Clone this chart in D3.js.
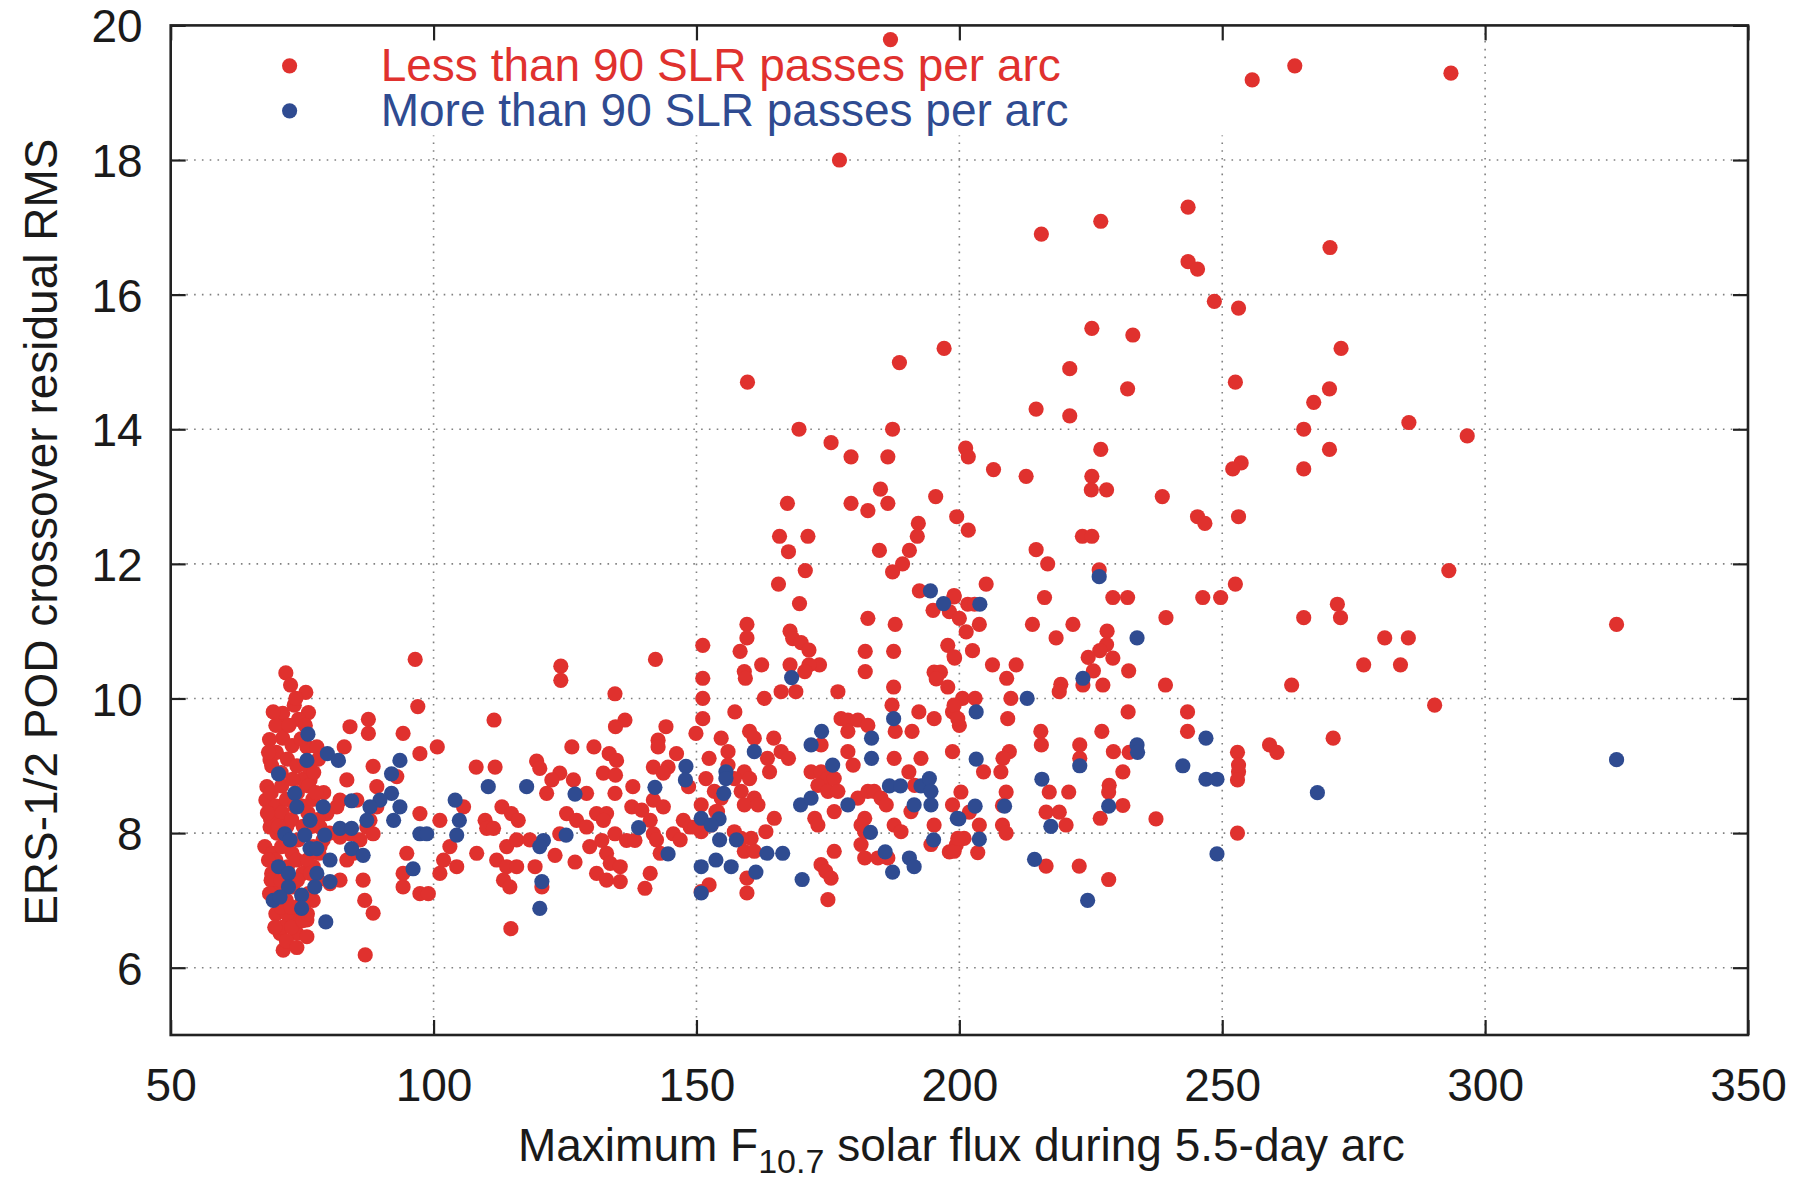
<!DOCTYPE html>
<html><head><meta charset="utf-8">
<script src="https://cdn.jsdelivr.net/npm/d3@7"></script>
<style>
html,body{margin:0;padding:0;background:#fff;}
text{font-family:"Liberation Sans",Arial,Helvetica,sans-serif;}
</style></head>
<body>
<svg id="chart" width="1809" height="1180"></svg>
<script>
// ---------------- data ----------------
const X_TICKS = [50,100,150,200,250,300,350];
const Y_TICKS = [6,8,10,12,14,16,18,20];
const X_DOMAIN = [50,350];
const Y_DOMAIN = [5,20];
const SERIES_NAMES = ["Less than 90 SLR passes per arc","More than 90 SLR passes per arc"];
const Y_LABEL = "ERS-1/2 POD crossover residual RMS";

// Less than 90 SLR passes per arc  [F10.7, RMS]
const lessPasses = [
[186.9,19.79],[177.2,18.0],[243.5,17.3],[226.9,17.09],[215.6,16.9],[243.5,16.49],[245.3,16.38],[225.2,15.5],[233.0,15.4],[197.1,15.2],[188.6,14.99],[221.0,14.9],[159.7,14.7],[232.0,14.6],[214.6,14.3],[221.0,14.2],[169.5,14.0],[187.3,14.0],[175.6,13.8],[179.4,13.59],[186.4,13.59],[201.2,13.72],[201.7,13.59],[206.5,13.4],[212.7,13.3],[226.9,13.7],[225.2,13.3],[225.1,13.1],[228.0,13.1],[238.6,13.0],[245.3,12.7],[167.3,12.9],[179.4,12.9],[182.6,12.79],[185.0,13.11],[186.4,12.9],[195.5,13.0],[199.5,12.7],[201.7,12.5],[192.2,12.6],[192.0,12.41],[165.8,12.41],[171.2,12.41],[223.4,12.41],[225.2,12.41],
[255.7,19.19],[263.8,19.4],[293.5,19.29],[270.5,16.7],[248.5,15.9],[253.1,15.8],[272.6,15.2],[252.5,14.7],[270.4,14.6],[267.4,14.4],[265.5,14.0],[285.5,14.1],[296.6,13.9],[270.4,13.7],[253.6,13.5],[252.0,13.41],[265.5,13.41],
[246.7,12.6],[253.1,12.7],[293.1,11.9],[252.5,11.7],[246.3,11.5],[249.7,11.5],[271.9,11.4],[272.5,11.2],[265.5,11.2],[325.0,11.1],[280.9,10.9],[285.4,10.9],[276.9,10.5],[283.9,10.5],[263.2,10.2],[290.4,9.9],[271.1,9.41],[259.0,9.31],[260.4,9.2],[252.9,9.2],[253.1,9.01],[253.1,8.91],[252.9,8.79],[252.9,8.0],
[214.6,12.21],[216.8,12.0],[226.6,11.91],[205.1,11.7],[199.0,11.51],[201.6,11.4],[202.9,11.4],[216.2,11.5],[229.2,11.5],[232.0,11.5],[198.1,11.29],[200.0,11.19],[203.8,11.1],[201.3,10.99],[213.9,11.1],[221.6,11.1],[239.3,11.2],[218.4,10.9],[228.1,11.0],[228.0,10.8],[226.7,10.71],[224.5,10.61],[229.2,10.6],[232.2,10.41],[225.5,10.41],[202.5,10.71],[199.1,10.6],[206.3,10.5],[210.8,10.5],[209.0,10.3],[219.3,10.21],[219.0,10.1],[223.5,10.2],[227.3,10.2],[239.2,10.2],[200.6,10.0],[203.0,10.0],[209.8,10.0],[198.7,9.8],[200.0,9.6],[209.2,9.7],[232.1,9.8],[243.4,9.8],[243.4,9.51],[215.5,9.51],[215.6,9.31],[227.1,9.51],[222.9,9.31],[222.9,9.11],[229.3,9.21],[232.3,9.2],[198.7,9.21],[209.5,9.21],[208.3,9.11],[207.9,8.91],[204.6,8.91],[231.1,8.91],[228.5,8.71],[228.4,8.61],[231.1,8.41],[226.8,8.22],[237.4,8.21],[200.3,8.61],[208.9,8.61],[217.1,8.61],[220.8,8.61],[216.5,8.31],[219.0,8.31],[220.3,8.12],[201.9,8.31],[208.2,8.41],[208.2,8.12],[208.9,8.0],[203.8,8.12],[200.9,7.92],[199.4,7.82],[203.5,7.71],[216.5,7.51],[222.8,7.51],[228.4,7.31],[198.1,7.72],
[167.5,12.18],[184.8,12.2],[190.5,12.2],[189.2,12.0],[187.3,11.88],[170.7,11.9],[165.6,11.7],[169.6,11.41],[192.4,11.6],[195.0,11.31],[199.0,11.53],[182.6,11.19],[187.8,11.1],[159.6,11.1],[159.6,10.9],[158.3,10.7],[151.2,10.79],[167.8,11.0],[168.3,10.89],[169.9,10.83],[171.4,10.72],[173.4,10.5],[171.4,10.5],[167.8,10.5],[162.4,10.5],[170.6,10.4],[159.1,10.4],[159.3,10.3],[182.1,10.7],[182.1,10.4],[187.5,10.7],[197.8,10.79],[199.0,10.62],[187.5,10.17],[195.2,10.39],[196.4,10.39],[197.8,10.17],[195.6,10.29],[151.2,10.3],[151.2,10.0],[151.2,9.7],[162.9,10.0],[166.1,10.1],[168.9,10.1],[176.9,10.1],[157.3,9.8],[187.2,9.9],[187.8,9.51],[191.0,9.51],[192.3,9.8],[195.2,9.7],[199.0,9.9],[199.7,9.7],[177.5,9.7],[178.8,9.68],[180.7,9.68],[182.6,9.6],[178.8,9.51],[160.1,9.51],[161.0,9.41],[164.7,9.41],[154.7,9.41],[156.0,9.21],[152.4,9.11],[166.1,9.21],[167.5,9.11],[163.5,9.11],[163.9,8.91],[151.8,8.81],[156.0,9.01],[159.1,8.91],[160.1,8.81],[158.5,8.62],[161.0,8.52],[159.1,8.42],[161.7,8.42],[153.4,8.62],[154.0,8.32],[164.8,8.22],[173.7,9.31],[171.8,8.91],[173.7,8.91],[175.0,8.81],[173.1,8.71],[175.0,8.62],[176.2,8.81],[176.9,8.62],[176.2,8.32],[178.8,9.21],[179.8,9.01],[172.5,8.22],[173.1,8.12],[180.7,8.52],[182.6,8.62],[183.8,8.62],[185.1,8.52],[186.1,8.42],[182.0,8.22],[181.3,8.12],[182.0,8.02],[181.3,7.83],[182.0,7.63],[187.6,9.11],[190.4,8.91],[192.7,9.11],[191.5,8.71],[190.8,8.32],[187.6,8.12],[188.9,8.02],[195.2,8.12],[194.6,7.83],[198.7,8.42],[199.0,7.73],[199.7,7.92],[184.5,7.63],[186.4,7.63],[176.2,7.73],[173.7,7.53],[174.6,7.43],[175.6,7.33],[175.0,7.01],[163.2,8.02],[160.4,7.92],[159.1,7.73],[161.0,7.73],[157.2,8.02],[158.5,7.92],[152.8,8.12],[150.9,8.02],[152.4,7.23],[150.9,7.13],[159.6,7.33],[159.6,7.11],[154.7,8.52],[153.7,8.32],[157.2,8.81],[150.9,8.42],
[142.2,10.58],[124.2,10.48],[124.2,10.27],[134.5,10.07],[149.9,9.48],[111.5,9.68],[136.4,9.68],[134.6,9.58],[144.2,9.58],[142.7,9.38],[142.7,9.28],[126.3,9.28],[130.5,9.28],[146.2,9.18],[108.1,8.98],[111.7,8.98],[119.6,9.07],[120.2,8.96],[124.0,8.89],[122.5,8.79],[121.5,8.59],[126.6,8.79],[129.1,8.59],[133.4,9.18],[134.8,9.08],[132.3,8.89],[134.6,8.86],[134.5,8.59],[137.9,8.69],[141.8,8.98],[144.6,8.98],[143.7,8.89],[148.5,8.69],[105.7,8.39],[113.0,8.39],[114.8,8.29],[116.1,8.19],[109.8,8.19],[110.1,8.07],[111.4,8.07],[125.3,8.29],[127.2,8.19],[129.1,8.09],[131.0,8.29],[132.9,8.29],[132.3,8.19],[134.5,7.99],[137.7,8.39],[139.6,8.34],[141.8,8.49],[143.7,8.39],[141.2,8.19],[141.8,7.99],[142.4,7.9],[145.6,7.99],[146.9,7.9],[147.5,8.19],[148.8,8.09],[103.1,7.8],[108.2,7.7],[104.4,7.5],[112.0,7.6],[113.9,7.8],[115.8,7.9],[118.3,7.9],[113.9,7.5],[115.8,7.5],[113.3,7.3],[114.5,7.2],[119.3,7.5],[120.6,7.2],[123.1,7.67],[124.0,7.99],[126.9,7.57],[129.7,7.8],[131.0,7.4],[132.0,7.89],[132.9,7.7],[133.6,7.55],[132.9,7.3],[135.5,7.5],[135.5,7.28],[136.7,7.89],[138.3,7.89],[141.2,7.4],[140.2,7.18],[143.1,7.7],[149.7,8.09],[114.7,6.58],
[71.9,10.38],[75.7,10.09],[71.3,9.78],[76.2,9.79],[74.3,9.69],[71.4,9.58],[71.3,9.41],[68.8,9.39],[75.9,9.28],[77.8,9.28],[68.9,9.09],[68.3,8.69],[68.1,8.49],[68.9,8.09],[67.9,7.8],[69.2,7.4],[70.2,7.2],[71.4,6.91],[70.8,6.51],[71.4,6.26],[74.0,6.51],[75.9,6.46],[73.3,6.71],[75.9,6.71],[75.2,6.91],[77.1,7.0],[84.1,9.58],[87.6,9.69],[87.6,9.48],[94.2,9.48],[83.0,9.28],[100.7,9.28],[97.4,9.18],[96.5,10.58],[97.0,9.88],[88.5,8.99],[93.0,8.84],[83.5,8.79],[76.5,8.79],[82.2,8.49],[85.4,8.49],[89.2,8.69],[97.4,8.29],[101.2,8.19],[94.9,7.7],[94.2,7.4],[94.2,7.2],[97.4,7.1],[99.0,7.1],[101.2,7.4],[101.9,7.6],[86.6,7.3],[86.9,7.0],[88.5,6.81],[87.0,6.19],[82.2,7.3],[80.3,7.25],[83.5,7.6],[84.1,7.99],[87.3,8.09],[88.5,7.99],[81.6,8.39],[79.7,8.29],[78.4,8.09],[78.4,7.8],[77.1,7.5],[79.7,7.99],[82.2,7.94],[84.7,7.7],[86.0,7.9],[89.2,8.39],[87.9,8.19],
[69.2,9.0],[70.1,9.2],[71.0,8.9],[72.2,9.1],[73.1,9.3],[74.0,9.0],[75.1,8.8],[76.0,9.0],[77.2,8.9],[78.1,9.1],
[69.1,8.6],[70.0,8.4],[71.1,8.7],[72.0,8.5],[73.2,8.8],[74.1,8.6],[75.0,8.4],[76.2,8.7],[77.0,8.5],[79.1,8.6],
[69.0,8.2],[70.2,8.0],[71.2,8.3],[72.1,8.1],[73.0,8.2],[74.2,7.9],[75.2,8.1],[76.1,8.3],[78.0,8.2],[80.2,8.0],
[69.3,7.7],[70.0,7.6],[71.1,7.8],[72.2,7.5],[73.1,7.7],[74.0,7.6],[75.1,7.4],[76.0,7.6],[78.2,7.7],[79.0,7.9],
[69.1,7.3],[70.1,7.1],[71.0,7.3],[72.0,7.0],[73.2,7.2],[74.1,7.3],[75.0,7.0],[76.2,7.1],[78.0,7.3],[77.1,7.8],
[70.0,6.8],[71.2,6.6],[72.1,6.8],[73.0,6.6],[74.2,6.9],[75.1,6.7],[76.0,6.8],[72.0,6.4],[71.0,6.9],[74.0,6.3],
[70.0,9.6],[72.5,9.6],[73.5,9.9],[72.8,10.2],[69.5,9.8],[74.8,9.4],[70.5,8.1],[72.6,7.2],[73.6,8.4],[76.6,7.4],
[68.6,9.2],[68.4,8.3],[68.6,7.6],[68.8,7.1],[69.8,6.6],[72.9,6.9],[76.8,8.1],[77.6,8.6],[75.6,9.6],[73.8,10.0]
];

// More than 90 SLR passes per arc  [F10.7, RMS]
const morePasses = [
[246.9,9.41],[246.9,8.8],[249.0,8.8],[268.1,8.6],[325.0,9.09],[249.0,7.69],
[203.9,11.4],[226.6,11.81],[233.8,10.9],[223.5,10.3],[212.9,10.0],[203.2,9.8],[203.2,9.1],[233.8,9.31],[233.9,9.2],[222.9,9.0],[215.7,8.8],[242.5,9.0],[203.0,8.4],[208.6,8.4],[228.4,8.4],[199.9,8.21],[217.4,8.1],[203.8,7.91],[214.3,7.61],[224.4,7.0],
[194.5,11.6],[197.0,11.41],[168.1,10.31],[187.5,9.7],[173.8,9.51],[171.8,9.31],[183.3,9.41],[183.3,9.11],[175.9,9.01],[161.0,9.21],[155.6,8.91],[155.6,8.81],[155.2,8.59],[186.7,8.7],[188.8,8.7],[192.7,8.7],[194.3,8.81],[194.6,8.62],[191.4,8.42],[194.6,8.42],[169.8,8.42],[171.8,8.52],[178.8,8.42],[154.3,8.21],[150.9,8.22],[152.8,8.12],[154.4,7.9],[157.6,7.9],[163.4,7.7],[166.4,7.7],[183.1,8.01],[185.9,7.72],[187.3,7.42],[190.5,7.63],[191.4,7.5],[195.1,7.9],[150.9,7.5],[153.7,7.6],[156.6,7.5],[161.3,7.42],[170.1,7.31],[150.9,7.11],[199.6,8.22],
[104.1,8.49],[104.9,8.19],[104.4,7.97],[110.4,8.69],[117.7,8.69],[126.9,8.58],[120.9,7.89],[120.2,7.8],[120.6,7.28],[120.2,6.88],[125.2,7.97],[139.0,8.08],[142.1,8.68],[148.0,8.99],[147.9,8.79],[144.6,7.69],
[76.1,9.47],[79.8,9.18],[81.9,9.08],[75.9,9.08],[70.5,8.88],[93.6,9.08],[92.0,8.88],[92.0,8.59],[89.8,8.49],[93.6,8.39],[92.4,8.19],[87.9,8.39],[87.3,8.19],[73.6,8.59],[74.0,8.39],[76.5,8.19],[84.4,8.48],[79.0,8.39],[71.7,7.99],[72.7,7.9],[75.5,7.97],[79.3,7.97],[82.2,8.07],[84.4,8.07],[76.5,7.77],[77.8,7.77],[84.4,7.77],[86.6,7.67],[80.3,7.6],[70.5,7.5],[72.4,7.4],[77.8,7.4],[80.3,7.28],[77.4,7.2],[72.4,7.2],[69.5,7.0],[70.8,7.05],[74.9,7.08],[74.9,6.88],[79.5,6.68],[97.4,7.99],[98.7,7.99],[96.1,7.47]
];

// ---------------- layout ----------------
const RED = "#e0312e", BLUE = "#2f4b91";
const M = {left:170.7, right:1748, top:25.4, bottom:1035};
const FS = 46;
const svg = d3.select("#chart");
const x = d3.scaleLinear().domain(X_DOMAIN).range([M.left, M.right]);
const y = d3.scaleLinear().domain(Y_DOMAIN).range([M.bottom, M.top]);

// grid
const grid = svg.append("g").attr("stroke","#808080").attr("stroke-width",1.6).attr("stroke-dasharray","1.6,6.2");
grid.selectAll("line.gx").data(X_TICKS.filter(d=>d>X_DOMAIN[0]&&d<X_DOMAIN[1])).join("line")
  .attr("x1",d=>x(d)).attr("x2",d=>x(d)).attr("y1",M.top).attr("y2",M.bottom);
grid.selectAll("line.gy").data(Y_TICKS.filter(d=>d>Y_DOMAIN[0]&&d<Y_DOMAIN[1])).join("line")
  .attr("y1",d=>y(d)).attr("y2",d=>y(d)).attr("x1",M.left).attr("x2",M.right);

// key area cleared (as in the original)
svg.append("rect").attr("x",M.left+2).attr("y",M.top+2).attr("width",x(255)-M.left).attr("height",108).attr("fill","#fff");

// axes with inward ticks
const tickStyle = g => { g.select(".domain").remove(); g.selectAll(".tick line").attr("stroke","#222").attr("stroke-width",2.2);
  g.selectAll(".tick text").attr("fill","#1a1a1a").style("font-size",FS+"px").style("font-family","'Liberation Sans',Arial,sans-serif"); };
svg.append("g").attr("class","xb").attr("transform",`translate(0,${M.bottom})`)
  .call(d3.axisBottom(x).tickValues(X_TICKS).tickSizeInner(-15).tickSizeOuter(0).tickPadding(33).tickFormat(d3.format("d"))).call(tickStyle);
svg.append("g").attr("transform",`translate(0,${M.top})`)
  .call(d3.axisTop(x).tickValues(X_TICKS).tickSizeInner(-15).tickSizeOuter(0).tickFormat("")).call(tickStyle);
svg.append("g").attr("class","yl").attr("transform",`translate(${M.left},0)`)
  .call(d3.axisLeft(y).tickValues(Y_TICKS).tickSizeInner(-15).tickSizeOuter(0).tickPadding(28).tickFormat(d3.format("d"))).call(tickStyle);
svg.append("g").attr("transform",`translate(${M.right},0)`)
  .call(d3.axisRight(y).tickValues(Y_TICKS).tickSizeInner(-15).tickSizeOuter(0).tickFormat("")).call(tickStyle);
svg.selectAll(".xb .tick text").attr("dy","0.71em");
svg.selectAll(".yl .tick text").attr("dy","0.36em");

// frame
svg.append("rect").attr("x",M.left).attr("y",M.top).attr("width",M.right-M.left).attr("height",M.bottom-M.top)
  .attr("fill","none").attr("stroke","#222").attr("stroke-width",2.6);

// points
const R = 7.6;
svg.append("g").selectAll("circle").data(lessPasses).join("circle")
  .attr("cx",d=>x(d[0])).attr("cy",d=>y(d[1])).attr("r",R).attr("fill",RED);
svg.append("g").selectAll("circle").data(morePasses).join("circle")
  .attr("cx",d=>x(d[0])).attr("cy",d=>y(d[1])).attr("r",R).attr("fill",BLUE);

// legend
const leg = svg.append("g");
[[SERIES_NAMES[0],RED,80.8],[SERIES_NAMES[1],BLUE,125.8]].forEach(([t,c,b])=>{
  leg.append("circle").attr("cx",289.6).attr("cy",b-15).attr("r",R).attr("fill",c);
  leg.append("text").attr("x",380.7).attr("y",b).attr("fill",c).style("font-size",FS+"px").text(t);
});

// axis titles
svg.append("text").attr("transform",`translate(57,${(M.top+M.bottom)/2+2}) rotate(-90)`).attr("text-anchor","middle")
  .attr("fill","#1a1a1a").style("font-size",FS+"px").text(Y_LABEL);
const xl = svg.append("text").attr("x",(M.left+M.right)/2+2).attr("y",1161).attr("text-anchor","middle").attr("fill","#1a1a1a").style("font-size",FS+"px");
xl.append("tspan").text("Maximum F");
xl.append("tspan").attr("dy",12).style("font-size","34px").text("10.7");
xl.append("tspan").attr("dy",-12).text(" solar flux during 5.5-day arc");
</script>
</body></html>
